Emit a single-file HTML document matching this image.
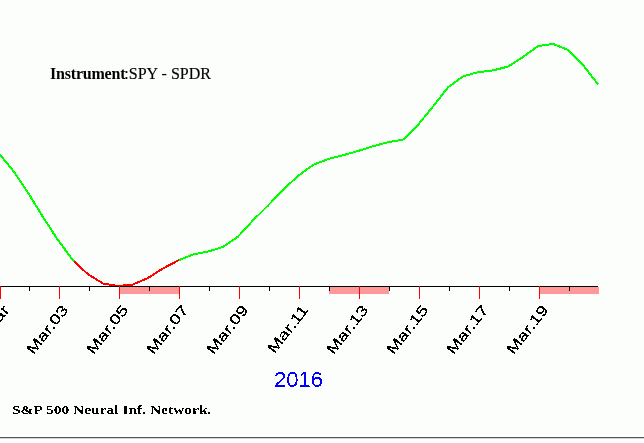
<!DOCTYPE html>
<html><head><meta charset="utf-8"><style>
html,body{margin:0;padding:0;background:#fcfefc;}
body{width:644px;height:443px;overflow:hidden;position:relative;}
svg{position:absolute;left:0;top:0;}
.t{position:absolute;white-space:nowrap;line-height:1;}
#inst{left:50px;top:66px;font-family:"Liberation Serif",serif;font-size:16px;color:#000;}
#inst b{font-weight:bold;}
#yr,#net{filter:url(#al2);}
#yr{left:274px;top:369px;font-family:"Liberation Sans",sans-serif;font-size:22px;color:#0000ff;}
#net{left:12px;top:403px;font-family:"Liberation Serif",serif;font-weight:bold;font-size:13px;color:#000;transform-origin:0 0;transform:scaleX(1.19);}
</style></head><body>
<svg width="644" height="443" viewBox="0 0 644 443">
<rect x="119" y="287" width="60" height="7" fill="#ff9999"/><rect x="329" y="287" width="60" height="7" fill="#ff9999"/><rect x="539" y="287" width="60" height="7" fill="#ff9999"/>
<g fill="none" stroke-width="2" stroke-linejoin="round" shape-rendering="crispEdges">
<polyline points="-2,152.40 13,170.47 28,192.59 43,217.13 58,240.08 73,260.23 74,261.17" stroke="#00ff00"/>
<polyline points="74,261.17 88,274.33 103,283.44 118,286.00 133,284.49 148,277.97 163,268.48 178,260.55 179.2,260.07" stroke="#ff0000"/>
<polyline points="179.2,260.07 193,254.52 208,251.56 223,246.95 238,236.66 253,220.35 268,205.64 283,189.76 298,176.04 313,164.92 328,159.12 343,155.23 358,151.02 373,146.26 388,142.25 403,139.65 418,124.86 433,106.51 448,87.31 463,76.41 478,72.19 493,70.43 508,66.61 523,57.01 538,46.10 553,43.90 568,49.87 583,65.00 598,84.30" stroke="#00ff00"/>
</g>
<rect x="0" y="286" width="598" height="1" fill="#000"/>
<rect x="29" y="286" width="1" height="5" fill="#000"/><rect x="89" y="286" width="1" height="5" fill="#000"/><rect x="149" y="286" width="1" height="5" fill="#000"/><rect x="209" y="286" width="1" height="5" fill="#000"/><rect x="269" y="286" width="1" height="5" fill="#000"/><rect x="329" y="286" width="1" height="5" fill="#000"/><rect x="389" y="286" width="1" height="5" fill="#000"/><rect x="449" y="286" width="1" height="5" fill="#000"/><rect x="509" y="286" width="1" height="5" fill="#000"/><rect x="569" y="286" width="1" height="5" fill="#000"/>
<rect x="0" y="286" width="1" height="13" fill="#ff0000"/><rect x="59" y="286" width="1" height="13" fill="#ff0000"/><rect x="119" y="286" width="1" height="13" fill="#ff0000"/><rect x="179" y="286" width="1" height="13" fill="#ff0000"/><rect x="239" y="286" width="1" height="13" fill="#ff0000"/><rect x="299" y="286" width="1" height="13" fill="#ff0000"/><rect x="359" y="286" width="1" height="13" fill="#ff0000"/><rect x="419" y="286" width="1" height="13" fill="#ff0000"/><rect x="479" y="286" width="1" height="13" fill="#ff0000"/><rect x="539" y="286" width="1" height="13" fill="#ff0000"/>
<defs><filter id="al" x="0" y="0" width="644" height="443" filterUnits="userSpaceOnUse"><feComponentTransfer><feFuncA type="discrete" tableValues="0 1 1"/></feComponentTransfer></filter><filter id="al2"><feComponentTransfer><feFuncA type="discrete" tableValues="0 1"/></feComponentTransfer></filter></defs>
<g font-family="Liberation Sans, sans-serif" font-size="14.5" fill="#000" filter="url(#al)">
<text x="0" y="0" transform="translate(10,310) rotate(-52.0) scale(1.3,1)" text-anchor="end">Mar</text><text x="0" y="0" transform="translate(69,310) rotate(-52.0) scale(1.3,1)" text-anchor="end">Mar.03</text><text x="0" y="0" transform="translate(129,310) rotate(-52.0) scale(1.3,1)" text-anchor="end">Mar.05</text><text x="0" y="0" transform="translate(189,310) rotate(-52.0) scale(1.3,1)" text-anchor="end">Mar.07</text><text x="0" y="0" transform="translate(249,310) rotate(-52.0) scale(1.3,1)" text-anchor="end">Mar.09</text><text x="0" y="0" transform="translate(309,310) rotate(-52.0) scale(1.3,1)" text-anchor="end">Mar.11</text><text x="0" y="0" transform="translate(369,310) rotate(-52.0) scale(1.3,1)" text-anchor="end">Mar.13</text><text x="0" y="0" transform="translate(429,310) rotate(-52.0) scale(1.3,1)" text-anchor="end">Mar.15</text><text x="0" y="0" transform="translate(489,310) rotate(-52.0) scale(1.3,1)" text-anchor="end">Mar.17</text><text x="0" y="0" transform="translate(549,310) rotate(-52.0) scale(1.3,1)" text-anchor="end">Mar.19</text>
</g>
<rect x="0" y="436" width="644" height="7" fill="#fff"/><rect x="0" y="437" width="644" height="1" fill="#555"/><rect x="0" y="438" width="644" height="1" fill="#d4d4d4"/>
</svg>
<div class="t" id="inst"><b style="letter-spacing:-0.2px">Instrument</b><span style="margin-left:-1px;-webkit-text-stroke:0.15px #000">:SPY - SPDR</span></div>
<div class="t" id="yr">2016</div>
<div class="t" id="net">S&amp;P 500 Neural Inf. Network.</div>
</body></html>
